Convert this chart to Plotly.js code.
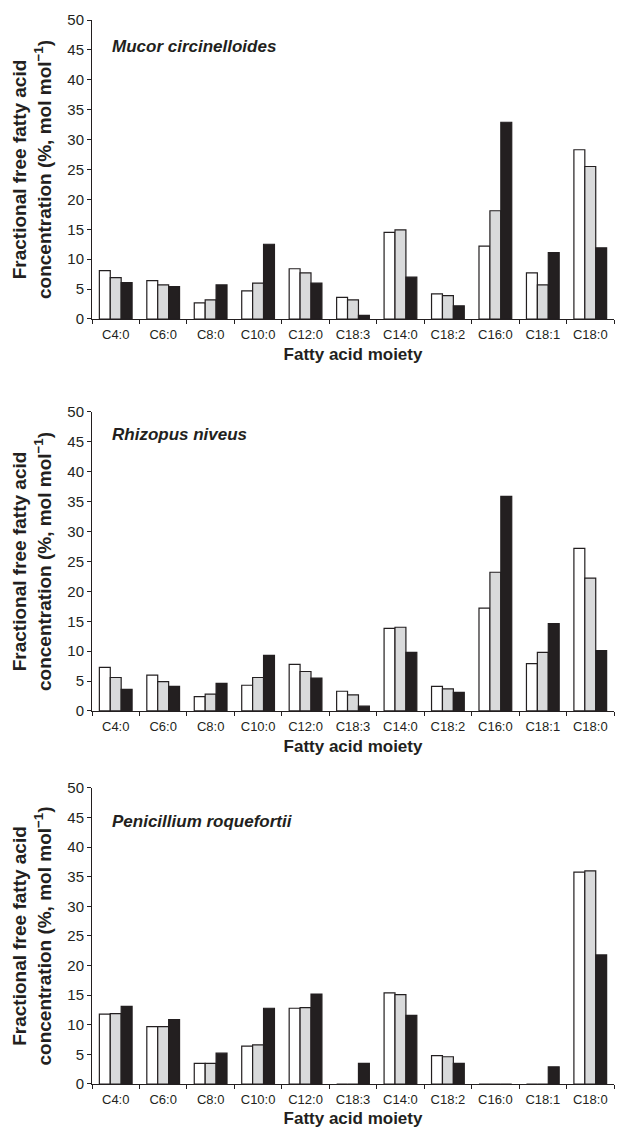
<!DOCTYPE html>
<html>
<head>
<meta charset="utf-8">
<script src="https://cdn.plot.ly/plotly-3.0.1.min.js"></script>
<style>html,body{margin:0;padding:0;background:#fff;}#chart{width:617px;height:1128px;}</style>
</head>
<body>
<div id="chart"></div>
<script>
const categories = ['C4:0','C6:0','C8:0','C10:0','C12:0','C18:3','C14:0','C18:2','C16:0','C18:1','C18:0'];
const yTickVals = [0,5,10,15,20,25,30,35,40,45,50];

const species = ['Mucor circinelloides','Rhizopus niveus','Penicillium roquefortii'];

// Panel 1: Mucor circinelloides
const mucorWhite = [8.1, 6.4, 2.7, 4.7, 8.4, 3.6, 14.5, 4.2, 12.2, 7.7, 28.3];
const mucorGray  = [6.9, 5.7, 3.2, 6.0, 7.7, 3.2, 14.9, 3.9, 18.1, 5.7, 25.5];
const mucorBlack = [6.1, 5.4, 5.7, 12.5, 6.0, 0.6, 7.0, 2.2, 32.9, 11.1, 11.9];

// Panel 2: Rhizopus niveus
const rhizWhite = [7.3, 6.0, 2.4, 4.3, 7.8, 3.3, 13.8, 4.1, 17.2, 7.9, 27.2];
const rhizGray  = [5.6, 4.9, 2.8, 5.6, 6.6, 2.7, 14.0, 3.7, 23.2, 9.8, 22.2];
const rhizBlack = [3.6, 4.1, 4.6, 9.3, 5.5, 0.8, 9.8, 3.1, 35.9, 14.6, 10.1];

// Panel 3: Penicillium roquefortii
const penWhite = [11.8, 9.7, 3.5, 6.4, 12.8, 0, 15.4, 4.8, 0, 0, 35.8];
const penGray  = [11.9, 9.7, 3.5, 6.6, 12.9, 0, 15.1, 4.6, 0, 0, 36.0];
const penBlack = [13.1, 10.9, 5.2, 12.8, 15.2, 3.5, 11.6, 3.5, 0, 2.9, 21.8];

const panels = [
  [mucorWhite, mucorGray, mucorBlack],
  [rhizWhite, rhizGray, rhizBlack],
  [penWhite, penGray, penBlack]
];

const ink = '#231f20';
const fills = ['#ffffff', '#d9dadb', '#231f20'];
const fontFam = 'Liberation Sans, Arial, Helvetica, sans-serif';

const data = [];
panels.forEach((series, p) => {
  const sfx = p === 0 ? '' : String(p + 1);
  series.forEach((vals, s) => {
    data.push({
      type: 'bar',
      x: categories,
      y: vals,
      xaxis: 'x' + sfx,
      yaxis: 'y' + sfx,
      marker: {color: fills[s], line: {color: ink, width: 1.2}},
      showlegend: false,
      hoverinfo: 'x+y'
    });
  });
});

const domains = [[0.719, 1.0], [0.3506, 0.6316], [0.0, 0.2782]];

const layout = {
  width: 617,
  height: 1128,
  margin: {l: 92, r: 3, t: 20, b: 44},
  paper_bgcolor: '#ffffff',
  plot_bgcolor: '#ffffff',
  barmode: 'group',
  bargap: 0.31,
  bargroupgap: 0,
  showlegend: false,
  font: {family: fontFam, color: ink},
  annotations: []
};

domains.forEach((dom, p) => {
  const sfx = p === 0 ? '' : String(p + 1);
  layout['xaxis' + sfx] = {
    domain: [0, 1],
    anchor: 'y' + sfx,
    type: 'category',
    categoryorder: 'array',
    categoryarray: categories,
    showline: true,
    linecolor: ink,
    linewidth: 1,
    ticks: 'outside',
    tickson: 'boundaries',
    ticklen: 4,
    tickcolor: ink,
    ticklabelstandoff: 3,
    tickfont: {size: 13, color: ink, family: fontFam},
    showgrid: false,
    zeroline: false,
    fixedrange: true,
    automargin: false,
    title: {text: '<b>Fatty acid moiety</b>', font: {size: 17, color: ink, family: fontFam}, standoff: 7}
  };
  layout['yaxis' + sfx] = {
    domain: dom,
    anchor: 'x' + sfx,
    range: [0, 50],
    tickvals: yTickVals,
    ticktext: yTickVals.map(String),
    showline: true,
    linecolor: ink,
    linewidth: 1,
    ticks: 'outside',
    ticklen: 4,
    tickcolor: ink,
    tickfont: {size: 15, color: ink, family: fontFam},
    showgrid: false,
    zeroline: false,
    fixedrange: true,
    automargin: false,
    title: {text: '<b>Fractional free fatty acid<br>concentration (%, mol mol<sup>−1</sup>)</b>', font: {size: 19, color: ink, family: fontFam}, standoff: 10}
  };
});

const labelY = [0.911, 0.923, 0.886];
species.forEach((name, p) => {
  const sfx = p === 0 ? '' : String(p + 1);
  layout.annotations.push({
    text: '<b><i>' + name + '</i></b>',
    xref: 'x' + sfx + ' domain',
    yref: 'y' + sfx + ' domain',
    x: 0.034,
    y: labelY[p],
    xanchor: 'left',
    yanchor: 'middle',
    showarrow: false,
    font: {size: 17, color: ink, family: fontFam}
  });
});

Plotly.newPlot('chart', data, layout, {displayModeBar: false, staticPlot: true});
</script>
</body>
</html>
